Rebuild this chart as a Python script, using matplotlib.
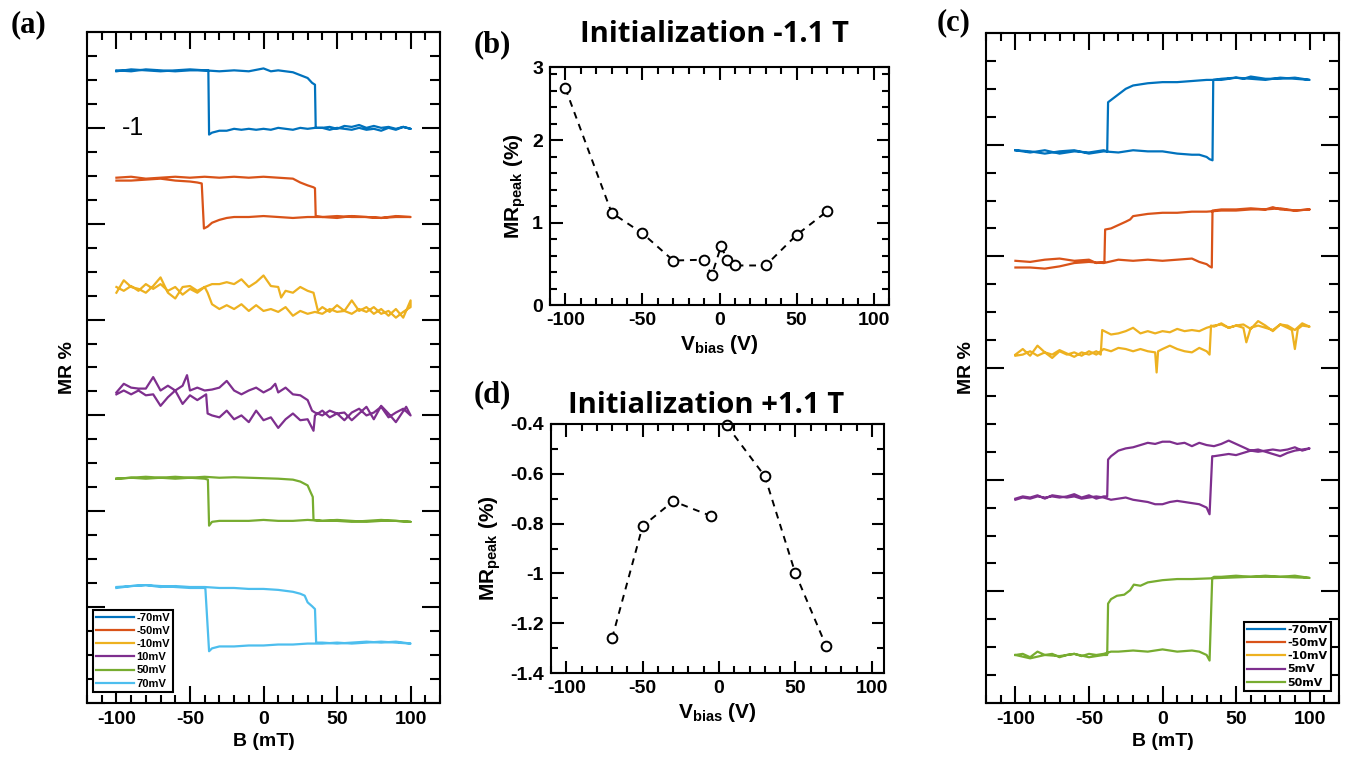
import matplotlib
matplotlib.use('Agg')
import matplotlib.pyplot as plt
from matplotlib.ticker import MultipleLocator, FuncFormatter

plt.rcParams['font.family'] = ['Liberation Sans', 'DejaVu Sans']
plt.rcParams['font.weight'] = 'bold'
plt.rcParams['axes.unicode_minus'] = False
plt.rcParams['mathtext.fontset'] = 'custom'
plt.rcParams['mathtext.default'] = 'regular'

# ---------------- colours ----------------
C_M70 = '#0072BD'
C_M50 = '#D95319'
C_M10 = '#EDB120'
C_P10 = '#7E2F8E'
C_P50 = '#77AC30'
C_P70 = '#4DBEEE'

# ---------------- panel (a): MR loops (offset, arb. units) ----------------
a_labels = ['-70mV', '-50mV', '-10mV', '10mV', '50mV', '70mV']

a_m70_up_B = [-100, -90, -80, -70, -60, -50, -40, -30, -20, -10, 0, 5, 10, 20, 25, 30, 33, 35, 35.5, 40, 45, 50, 55, 60, 65, 70, 75, 80, 85, 90, 95, 100]
a_m70_up_M = [-0.40, -0.41, -0.39, -0.40, -0.41, -0.40, -0.40, -0.41, -0.40, -0.41, -0.38, -0.41, -0.40, -0.42, -0.45, -0.48, -0.53, -0.55, -1.00, -1.00, -0.99, -1.01, -0.98, -0.99, -0.97, -1.00, -0.98, -1.00, -0.99, -1.01, -0.99, -1.01]
a_m70_dn_B = [100, 95, 90, 85, 80, 75, 70, 65, 60, 55, 50, 45, 40, 35, 30, 25, 20, 15, 10, 5, 0, -5, -10, -15, -20, -25, -30, -35, -37, -37.5, -40, -50, -60, -70, -80, -90, -100]
a_m70_dn_M = [-1.01, -0.99, -1.02, -1.00, -1.03, -1.01, -1.02, -1.00, -1.02, -1.01, -1.00, -1.02, -1.00, -1.00, -1.01, -1.00, -1.02, -1.01, -1.00, -1.02, -1.01, -1.02, -1.01, -1.02, -1.01, -1.03, -1.03, -1.05, -1.07, -0.40, -0.40, -0.39, -0.40, -0.41, -0.40, -0.39, -0.41]

a_m50_up_B = [-100, -90, -80, -70, -60, -50, -40, -30, -20, -10, 0, 10, 20, 25, 30, 34, 35, 35.5, 40, 50, 60, 70, 80, 90, 100]
a_m50_up_M = [-1.52, -1.51, -1.53, -1.52, -1.51, -1.52, -1.51, -1.52, -1.51, -1.52, -1.51, -1.52, -1.53, -1.57, -1.60, -1.62, -1.63, -1.92, -1.93, -1.94, -1.92, -1.93, -1.94, -1.93, -1.93]
a_m50_dn_B = [100, 90, 80, 70, 60, 50, 40, 30, 20, 10, 0, -10, -20, -25, -30, -35, -38, -40.5, -42, -45, -50, -60, -70, -80, -90, -100]
a_m50_dn_M = [-1.93, -1.92, -1.94, -1.93, -1.93, -1.92, -1.93, -1.93, -1.94, -1.93, -1.92, -1.93, -1.93, -1.94, -1.96, -1.99, -2.03, -2.05, -1.58, -1.57, -1.56, -1.55, -1.53, -1.54, -1.55, -1.55]

a_m10_up_B = [-100, -95, -90, -85, -80, -75, -70, -65, -60, -55, -50, -45, -40, -35, -30, -25, -20, -15, -10, -5, 0, 5, 10, 12, 15, 20, 25, 30, 34, 37, 40, 45, 50, 55, 60, 65, 70, 75, 80, 85, 90, 95, 100]
a_m10_up_M = [-2.72, -2.59, -2.66, -2.68, -2.72, -2.65, -2.56, -2.72, -2.78, -2.66, -2.65, -2.70, -2.66, -2.63, -2.63, -2.61, -2.63, -2.58, -2.66, -2.61, -2.54, -2.65, -2.66, -2.77, -2.70, -2.72, -2.66, -2.70, -2.72, -2.91, -2.87, -2.92, -2.85, -2.91, -2.80, -2.91, -2.87, -2.94, -2.89, -2.96, -2.89, -2.98, -2.80]
a_m10_dn_B = [100, 95, 90, 85, 80, 75, 70, 65, 60, 55, 50, 45, 40, 35, 30, 25, 20, 15, 10, 5, 0, -5, -10, -15, -20, -25, -30, -35, -38, -40, -45, -50, -55, -60, -65, -70, -75, -80, -85, -90, -95, -100]
a_m10_dn_M = [-2.87, -2.92, -2.98, -2.91, -2.94, -2.87, -2.92, -2.89, -2.94, -2.91, -2.92, -2.89, -2.94, -2.92, -2.94, -2.91, -2.96, -2.87, -2.92, -2.89, -2.91, -2.85, -2.91, -2.84, -2.89, -2.85, -2.89, -2.84, -2.72, -2.66, -2.72, -2.68, -2.74, -2.66, -2.70, -2.63, -2.68, -2.63, -2.70, -2.65, -2.70, -2.66]

a_p10_up_B = [-100, -95, -90, -85, -80, -75, -70, -65, -60, -55, -52, -50, -45, -40, -35, -30, -25, -20, -15, -10, -5, 0, 5, 8, 10, 15, 20, 25, 30, 33, 35, 40, 45, 50, 55, 60, 65, 70, 75, 80, 85, 90, 95, 100]
a_p10_up_M = [-3.76, -3.67, -3.71, -3.72, -3.72, -3.60, -3.74, -3.69, -3.74, -3.69, -3.58, -3.74, -3.71, -3.74, -3.73, -3.71, -3.64, -3.74, -3.78, -3.74, -3.71, -3.76, -3.72, -3.67, -3.76, -3.71, -3.78, -3.79, -3.84, -3.95, -3.97, -4.00, -3.95, -3.98, -4.05, -3.97, -3.93, -4.00, -3.97, -3.91, -4.02, -3.97, -3.93, -4.00]
a_p10_dn_B = [100, 97, 90, 85, 80, 75, 70, 65, 60, 55, 50, 45, 40, 35, 34, 30, 25, 20, 15, 10, 5, 0, -5, -10, -15, -20, -25, -30, -35, -38, -39, -45, -50, -55, -60, -65, -70, -75, -80, -85, -90, -95, -100]
a_p10_dn_M = [-4.00, -3.91, -4.07, -3.98, -3.90, -4.04, -3.91, -3.98, -4.05, -3.97, -3.98, -4.02, -3.95, -4.00, -4.16, -4.04, -4.05, -3.98, -4.04, -4.13, -4.02, -4.05, -3.95, -4.07, -4.00, -4.04, -3.95, -4.02, -4.00, -3.98, -3.78, -3.84, -3.79, -3.88, -3.74, -3.81, -3.90, -3.78, -3.79, -3.74, -3.78, -3.74, -3.78]

a_p50_up_B = [-100, -90, -80, -70, -60, -50, -40, -30, -20, -10, 0, 10, 15, 20, 25, 30, 32, 33.5, 34, 40, 50, 60, 70, 80, 90, 100]
a_p50_up_M = [-4.66, -4.65, -4.64, -4.65, -4.64, -4.65, -4.64, -4.65, -4.645, -4.65, -4.655, -4.66, -4.665, -4.67, -4.69, -4.73, -4.80, -4.85, -5.09, -5.10, -5.09, -5.10, -5.11, -5.10, -5.10, -5.11]
a_p50_dn_B = [100, 90, 80, 70, 60, 50, 40, 30, 20, 10, 0, -10, -20, -30, -35, -37, -37.8, -40, -50, -60, -70, -80, -90, -100]
a_p50_dn_M = [-5.11, -5.10, -5.09, -5.10, -5.11, -5.10, -5.10, -5.09, -5.10, -5.10, -5.09, -5.10, -5.10, -5.10, -5.11, -5.15, -4.67, -4.66, -4.65, -4.66, -4.65, -4.66, -4.65, -4.66]

a_p70_up_B = [-100, -90, -80, -70, -60, -50, -40, -30, -20, -10, 0, 10, 20, 25, 28, 30, 33, 35, 35.8, 40, 50, 60, 70, 80, 90, 100]
a_p70_up_M = [-5.79, -5.78, -5.77, -5.79, -5.78, -5.79, -5.79, -5.80, -5.80, -5.81, -5.81, -5.82, -5.84, -5.86, -5.88, -5.95, -5.99, -6.02, -6.37, -6.37, -6.38, -6.37, -6.36, -6.37, -6.36, -6.38]
a_p70_dn_B = [100, 90, 80, 70, 60, 50, 40, 30, 20, 10, 0, -10, -20, -30, -35, -37, -39.5, -40, -50, -60, -70, -80, -90, -100]
a_p70_dn_M = [-6.38, -6.37, -6.36, -6.37, -6.38, -6.37, -6.38, -6.38, -6.39, -6.39, -6.40, -6.40, -6.41, -6.41, -6.43, -6.46, -5.81, -5.80, -5.80, -5.79, -5.78, -5.77, -5.78, -5.80]

# ---------------- panel (c): MR loops (offset, arb. units) ----------------
c_labels = ['-70mV', '-50mV', '-10mV', '5mV', '50mV']

c_m70_up_B = [-100, -90, -80, -70, -60, -50, -40, -30, -20, -10, 0, 10, 20, 25, 30, 32, 34, 34.5, 40, 50, 55, 60, 70, 80, 90, 100]
c_m70_up_M = [-1.05, -1.06, -1.08, -1.06, -1.05, -1.08, -1.06, -1.07, -1.05, -1.06, -1.06, -1.08, -1.09, -1.09, -1.11, -1.13, -1.14, -0.42, -0.41, -0.40, -0.41, -0.39, -0.41, -0.41, -0.40, -0.42]
c_m70_dn_B = [100, 90, 80, 70, 60, 50, 40, 30, 20, 10, 0, -10, -20, -25, -28, -32, -35, -37, -37.6, -40, -50, -60, -70, -80, -90, -100]
c_m70_dn_M = [-0.42, -0.41, -0.40, -0.42, -0.41, -0.40, -0.42, -0.42, -0.43, -0.44, -0.44, -0.45, -0.47, -0.50, -0.53, -0.57, -0.60, -0.62, -1.06, -1.05, -1.07, -1.06, -1.08, -1.05, -1.07, -1.05]

c_m50_up_B = [-100, -90, -80, -70, -60, -50, -40, -30, -20, -10, 0, 10, 20, 25, 30, 32, 33.5, 34, 40, 50, 60, 70, 75, 80, 90, 100]
c_m50_up_M = [-2.10, -2.10, -2.11, -2.09, -2.06, -2.05, -2.06, -2.03, -2.04, -2.03, -2.04, -2.03, -2.02, -2.05, -2.07, -2.09, -2.10, -1.59, -1.58, -1.58, -1.57, -1.58, -1.56, -1.58, -1.59, -1.58]
c_m50_dn_B = [100, 90, 80, 70, 60, 50, 40, 30, 20, 10, 0, -10, -20, -22, -25, -30, -35, -39, -39.5, -45, -50, -60, -70, -80, -90, -100]
c_m50_dn_M = [-1.58, -1.59, -1.57, -1.58, -1.58, -1.59, -1.59, -1.60, -1.60, -1.61, -1.61, -1.62, -1.64, -1.67, -1.69, -1.72, -1.75, -1.76, -2.05, -2.06, -2.03, -2.04, -2.02, -2.03, -2.05, -2.04]

c_m10_up_B = [-100, -95, -90, -85, -80, -75, -70, -65, -60, -55, -50, -45, -40, -35, -30, -25, -20, -15, -10, -5, -4, -3, 0, 5, 10, 15, 20, 25, 30, 32, 33, 35, 40, 45, 50, 55, 60, 65, 70, 75, 80, 85, 88, 90, 92, 95, 100]
c_m10_up_M = [-2.88, -2.83, -2.89, -2.80, -2.86, -2.91, -2.85, -2.88, -2.86, -2.89, -2.85, -2.88, -2.83, -2.85, -2.82, -2.83, -2.85, -2.83, -2.85, -2.86, -3.04, -2.85, -2.83, -2.80, -2.83, -2.85, -2.86, -2.82, -2.85, -2.88, -2.62, -2.63, -2.60, -2.64, -2.62, -2.61, -2.65, -2.58, -2.62, -2.67, -2.61, -2.64, -2.66, -2.83, -2.65, -2.62, -2.63]
c_m10_dn_B = [100, 95, 90, 85, 80, 75, 70, 65, 60, 57, 55, 50, 45, 40, 35, 30, 25, 20, 15, 10, 5, 0, -5, -10, -15, -20, -25, -30, -35, -38, -41, -42, -45, -50, -55, -60, -65, -70, -75, -80, -85, -90, -95, -100]
c_m10_dn_M = [-2.63, -2.60, -2.66, -2.62, -2.61, -2.66, -2.64, -2.62, -2.64, -2.77, -2.64, -2.62, -2.64, -2.61, -2.62, -2.64, -2.67, -2.66, -2.67, -2.65, -2.68, -2.67, -2.69, -2.67, -2.69, -2.64, -2.67, -2.69, -2.70, -2.68, -2.66, -2.88, -2.85, -2.88, -2.86, -2.90, -2.87, -2.84, -2.88, -2.86, -2.89, -2.85, -2.88, -2.89]

c_p5_up_B = [-100, -95, -90, -85, -80, -75, -70, -65, -60, -55, -50, -45, -40, -35, -30, -25, -20, -15, -10, -5, 0, 5, 10, 15, 20, 25, 30, 32, 33.8, 35, 40, 45, 50, 55, 60, 65, 70, 75, 80, 85, 90, 95, 100]
c_p5_up_M = [-4.17, -4.15, -4.16, -4.14, -4.17, -4.14, -4.15, -4.16, -4.15, -4.17, -4.16, -4.15, -4.16, -4.18, -4.17, -4.16, -4.18, -4.19, -4.20, -4.22, -4.22, -4.20, -4.19, -4.20, -4.21, -4.22, -4.25, -4.31, -3.79, -3.79, -3.78, -3.77, -3.78, -3.76, -3.74, -3.73, -3.75, -3.77, -3.79, -3.76, -3.74, -3.73, -3.72]
c_p5_dn_B = [100, 95, 90, 85, 80, 75, 70, 65, 60, 55, 50, 45, 40, 35, 30, 25, 20, 15, 10, 5, 0, -5, -10, -15, -20, -25, -30, -35, -37, -37.6, -40, -45, -50, -55, -60, -65, -70, -75, -80, -85, -90, -95, -100]
c_p5_dn_M = [-3.72, -3.74, -3.71, -3.73, -3.74, -3.73, -3.74, -3.75, -3.74, -3.71, -3.68, -3.65, -3.68, -3.70, -3.69, -3.67, -3.70, -3.67, -3.68, -3.66, -3.66, -3.68, -3.67, -3.69, -3.71, -3.72, -3.74, -3.79, -3.82, -4.15, -4.15, -4.17, -4.14, -4.16, -4.13, -4.15, -4.16, -4.15, -4.16, -4.15, -4.17, -4.16, -4.18]

c_p50_up_B = [-100, -95, -90, -85, -80, -75, -70, -65, -60, -55, -50, -45, -40, -35, -30, -20, -10, 0, 5, 10, 20, 25, 30, 32, 33.8, 35, 40, 50, 60, 70, 80, 90, 100]
c_p50_up_M = [-5.57, -5.56, -5.59, -5.54, -5.57, -5.56, -5.59, -5.57, -5.56, -5.58, -5.56, -5.57, -5.56, -5.54, -5.54, -5.53, -5.54, -5.52, -5.53, -5.54, -5.53, -5.54, -5.57, -5.62, -4.88, -4.87, -4.87, -4.86, -4.87, -4.86, -4.87, -4.86, -4.88]
c_p50_dn_B = [100, 80, 60, 40, 20, 10, 0, -10, -15, -19.5, -22, -26, -31, -35, -37, -37.6, -40, -50, -60, -70, -80, -90, -100]
c_p50_dn_M = [-4.88, -4.87, -4.87, -4.88, -4.89, -4.89, -4.90, -4.92, -4.95, -4.94, -4.99, -5.03, -5.04, -5.07, -5.11, -5.57, -5.57, -5.59, -5.56, -5.58, -5.57, -5.60, -5.57]

# ---------------- panels (b), (d): peak MR vs bias ----------------
b_vbias = [-100, -70, -50, -30, -10, -5, 1, 5, 10, 30, 50, 70]
b_mrpeak = [2.63, 1.12, 0.87, 0.54, 0.55, 0.36, 0.715, 0.55, 0.48, 0.48, 0.85, 1.14]

d_vbias_neg = [-70, -50, -30, -5]
d_mrpeak_neg = [-1.26, -0.81, -0.71, -0.77]
d_vbias_pos = [5, 30, 50, 70]
d_mrpeak_pos = [-0.405, -0.61, -1.0, -1.29]

a_curves = [
    (a_m70_up_B, a_m70_up_M, a_m70_dn_B, a_m70_dn_M, C_M70),
    (a_m50_up_B, a_m50_up_M, a_m50_dn_B, a_m50_dn_M, C_M50),
    (a_m10_up_B, a_m10_up_M, a_m10_dn_B, a_m10_dn_M, C_M10),
    (a_p10_up_B, a_p10_up_M, a_p10_dn_B, a_p10_dn_M, C_P10),
    (a_p50_up_B, a_p50_up_M, a_p50_dn_B, a_p50_dn_M, C_P50),
    (a_p70_up_B, a_p70_up_M, a_p70_dn_B, a_p70_dn_M, C_P70),
]
c_curves = [
    (c_m70_up_B, c_m70_up_M, c_m70_dn_B, c_m70_dn_M, C_M70),
    (c_m50_up_B, c_m50_up_M, c_m50_dn_B, c_m50_dn_M, C_M50),
    (c_m10_up_B, c_m10_up_M, c_m10_dn_B, c_m10_dn_M, C_M10),
    (c_p5_up_B, c_p5_up_M, c_p5_dn_B, c_p5_dn_M, C_P10),
    (c_p50_up_B, c_p50_up_M, c_p50_dn_B, c_p50_dn_M, C_P50),
]

W, H = 1349, 758
fig = plt.figure(figsize=(W / 100, H / 100), dpi=100)


def px_axes(l, r, t, b):
    return fig.add_axes([l / W, 1 - b / H, (r - l) / W, (b - t) / H])


def style_axes(ax, major_len, minor_len):
    for s in ax.spines.values():
        s.set_linewidth(1.5)
    ax.tick_params(which='both', direction='in', top=True, right=True, width=1.5,
                   labelsize=14)
    ax.tick_params(which='major', length=major_len, pad=6)
    ax.tick_params(which='minor', length=minor_len)


def loops_panel(ax, curves, labels, ylim, leg_loc, leg_anchor, leg_font):
    handles = []
    for (ub, um, db, dm, col), lab in zip(curves, labels):
        assert len(ub) == len(um) and len(db) == len(dm), lab
        h, = ax.plot(list(ub) + list(db), list(um) + list(dm), color=col, lw=1.6, label=lab)
        handles.append(h)
    ax.set_xlim(-120, 120)
    ax.set_ylim(*ylim)
    ax.xaxis.set_major_locator(MultipleLocator(50))
    ax.xaxis.set_minor_locator(MultipleLocator(10))
    ax.yaxis.set_major_locator(MultipleLocator(1))
    ax.yaxis.set_minor_locator(MultipleLocator(0.25))
    ax.set_yticklabels([])
    style_axes(ax, 12.5, 6)
    ax.tick_params(axis='y', which='major', length=13)
    ax.tick_params(axis='y', which='minor', length=7)
    ax.set_xlabel('B (mT)', fontsize=14, fontweight='bold', labelpad=3)
    leg = ax.legend(handles=handles, loc=leg_loc, bbox_to_anchor=leg_anchor,
                    prop=leg_font, frameon=True, fancybox=False, framealpha=1,
                    edgecolor='black', handlelength=3.4, handletextpad=0.2,
                    labelspacing=0.28, borderpad=0.3, borderaxespad=0)
    leg.get_frame().set_linewidth(1.5)
    return ax


# ---- (a) ----
ax_a = px_axes(87, 440, 32, 703)
loops_panel(ax_a, a_curves, a_labels, (-7, 0), 'lower left', (0.017, 0.0165),
            {'family': 'Liberation Sans', 'weight': 'bold', 'size': 8})
ax_a.set_ylabel('MR %', fontsize=14, fontweight='bold', labelpad=2)
ax_a.text(-96, -1, '-1', fontsize=18, fontweight='normal', ha='left', va='center')

# ---- (c) ----
ax_c = px_axes(986, 1339, 33, 703)
loops_panel(ax_c, c_curves, c_labels, (-6, 0), 'lower right', (0.977, 0.018),
            {'family': 'Liberation Sans Narrow', 'weight': 'bold', 'size': 8})
ax_c.set_ylabel('MR %', fontsize=14, fontweight='bold', labelpad=2)

# ---- (b) ----
ax_b = px_axes(550, 889, 67, 305)
ax_b.plot(b_vbias, b_mrpeak, ls=(0, (3.5, 3)), color='black', lw=1.4,
          marker='o', mfc='white', mec='black', ms=7, mew=1.4)
ax_b.set_xlim(-110, 110)
ax_b.set_ylim(0, 2.89)
ax_b.xaxis.set_major_locator(MultipleLocator(50))
ax_b.xaxis.set_minor_locator(MultipleLocator(10))
ax_b.set_yticks([0, 1, 2, 2.89])
ax_b.set_yticklabels(['0', '1', '2', '3'])
ax_b.yaxis.set_minor_locator(MultipleLocator(0.2))
style_axes(ax_b, 9, 5)
ax_b.tick_params(pad=5)
ax_b.set_xlabel(r'V$_{bias}$ (V)', fontsize=15, fontweight='bold', labelpad=3)
ax_b.set_ylabel(r'MR$_{peak}$ (%)', fontsize=15, fontweight='bold', labelpad=3)

# ---- (d) ----
ax_d = px_axes(551, 884, 424, 673)
for vx, vy in [(d_vbias_neg, d_mrpeak_neg), (d_vbias_pos, d_mrpeak_pos)]:
    ax_d.plot(vx, vy, ls=(0, (3.5, 3)), color='black', lw=1.4,
              marker='o', mfc='white', mec='black', ms=7, mew=1.4, clip_on=False)
ax_d.set_xlim(-110, 108)
ax_d.set_ylim(-1.4, -0.4)
ax_d.xaxis.set_major_locator(MultipleLocator(50))
ax_d.xaxis.set_minor_locator(MultipleLocator(10))
ax_d.yaxis.set_major_locator(MultipleLocator(0.2))
ax_d.yaxis.set_minor_locator(MultipleLocator(0.1))
ax_d.yaxis.set_major_formatter(FuncFormatter(lambda v, p: '%g' % round(v, 2)))
style_axes(ax_d, 9, 5)
ax_d.tick_params(pad=5)
ax_d.set_xlabel(r'V$_{bias}$ (V)', fontsize=15, fontweight='bold', labelpad=3)
ax_d.set_ylabel(r'MR$_{peak}$ (%)', fontsize=15, fontweight='bold', labelpad=5)

# ---- titles and panel letters ----
title_font = {'family': ['Open Sans', 'DejaVu Sans'], 'weight': 'bold', 'size': 21}
fig.text(715 / W, 1 - 34 / H, 'Initialization -1.1 T', ha='center', va='center', fontdict=title_font)
fig.text(706 / W, 1 - 405 / H, 'Initialization +1.1 T', ha='center', va='center', fontdict=title_font)

letter_font = {'family': ['Liberation Serif', 'DejaVu Serif'], 'weight': 'bold', 'size': 22}
fig.text(28 / W, 1 - 25 / H, '(a)', ha='center', va='center', fontdict=letter_font)
fig.text(492 / W, 1 - 45 / H, '(b)', ha='center', va='center', fontdict=letter_font)
fig.text(954 / W, 1 - 23 / H, '(c)', ha='center', va='center', fontdict=letter_font)
fig.text(492 / W, 1 - 395 / H, '(d)', ha='center', va='center', fontdict=letter_font)

fig.savefig('out.png', dpi=100)
